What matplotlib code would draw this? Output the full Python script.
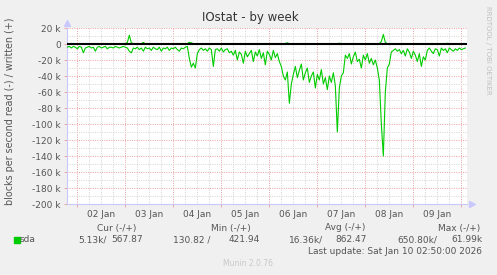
import numpy as np
import matplotlib
matplotlib.use("Agg")
import matplotlib.pyplot as plt
import matplotlib.dates as mdates

# hourly samples, starting 2026-01-01 19:00
start = np.datetime64("2026-01-01T19:00")
# read blocks/s (k), drawn negative
read_k = [4, 3, 5, 3, 4, 6, 3, 4, 11, 5, 4, 3, 5, 4, 9, 4, 3, 5, 4, 3,
          6, 4, 4, 5, 3, 4, 5, 4, 3, 4, 5, 9, 11, 5, 6, 4, 7, 5, 9, 4,
          6, 5, 8, 4, 6, 7, 4, 9, 5, 6, 4, 8, 5, 6, 4, 7, 9, 5, 6, 4,
          3, 18, 29, 24, 30, 12, 7, 5, 8, 6, 9, 5, 7, 28, 7, 6, 9, 5, 10, 7,
          6, 11, 9, 14, 8, 20, 10, 13, 24, 9, 16, 12, 8, 22, 10, 15, 7, 18, 11, 26,
          9, 13, 20, 8, 17, 12, 22, 28, 40, 45, 35, 74, 50, 38, 28, 42, 33, 25, 45, 36,
          30, 48, 40, 35, 55, 38, 45, 32, 50, 42, 57, 40, 48, 36, 52, 110, 55, 40, 36, 14,
          18, 12, 25, 16, 10, 22, 19, 30, 14, 20, 12, 24, 18, 26, 20, 30, 45, 100, 140, 60,
          30, 25, 10, 8, 6, 9, 7, 12, 8, 15, 6, 10, 18, 9, 14, 22, 12, 28, 16, 20,
          8, 5, 9, 12, 6, 7, 15, 5, 8, 6, 11, 5, 7, 9, 6, 8, 5, 7, 6, 5]
# written blocks/s (k)
write_k = [0.5, 0.4, 0.6, 0.5, 0.5, 0.4, 0.6, 0.5, 0.5, 0.4, 0.6, 0.5, 0.5, 0.4, 0.6, 0.5, 0.5, 0.4, 0.6, 0.5,
           0.5, 0.4, 0.6, 0.5, 0.5, 0.4, 0.6, 0.5, 0.5, 0.4, 2.0, 11.0, 1.5, 0.5, 0.6, 0.5, 0.5, 0.4, 2.0, 0.5,
           0.5, 0.4, 0.6, 0.5, 0.5, 0.4, 0.6, 0.5, 0.5, 0.4, 0.6, 0.5, 0.5, 0.4, 0.6, 0.5, 0.5, 0.4, 0.6, 0.5,
           0.6, 2.0, 1.5, 0.5, 0.5, 0.4, 0.6, 0.5, 0.5, 0.4, 0.6, 0.5, 0.5, 0.4, 0.6, 0.5, 0.5, 0.4, 0.6, 0.5,
           0.5, 0.4, 0.6, 0.5, 0.5, 0.4, 0.6, 0.5, 0.5, 0.4, 0.6, 0.5, 0.5, 0.4, 0.6, 0.5, 0.5, 0.4, 0.6, 0.5,
           0.5, 0.4, 0.6, 0.5, 0.5, 0.4, 0.6, 0.5, 0.5, 0.6, 1.5, 0.5, 0.5, 0.4, 0.6, 0.5, 0.5, 0.4, 0.6, 0.5,
           0.5, 0.4, 0.6, 0.5, 0.5, 0.4, 0.6, 0.5, 0.5, 0.4, 0.6, 0.5, 0.5, 0.4, 0.6, 0.5, 1.0, 0.5, 0.6, 0.5,
           0.5, 0.4, 0.6, 0.5, 0.5, 0.4, 0.6, 0.5, 0.5, 0.4, 0.6, 0.5, 0.5, 0.4, 0.6, 0.5, 0.5, 3.0, 12.0, 2.0,
           0.5, 0.4, 0.6, 0.5, 0.5, 0.4, 0.6, 0.5, 0.5, 0.4, 0.6, 0.5, 0.5, 0.4, 0.6, 0.5, 0.5, 0.4, 0.6, 0.5,
           0.5, 0.4, 0.6, 0.5, 0.5, 0.4, 0.6, 0.5, 0.5, 0.4, 1.0, 0.5, 0.5, 0.4, 0.6, 0.5, 0.5, 0.4, 0.6, 0.5]

day_labels = ["02 Jan", "03 Jan", "04 Jan", "05 Jan", "06 Jan", "07 Jan", "08 Jan", "09 Jan"]
y_ticks = [20, 0, -20, -40, -60, -80, -100, -120, -140, -160, -180, -200]

legend_head = ["Cur (-/+)", "Min (-/+)", "Avg (-/+)", "Max (-/+)"]
legend_vals = [("5.13k/", "567.87"), ("130.82 /", "421.94"),
               ("16.36k/", "862.47"), ("650.80k/", "61.99k")]

txt = "#555555"
green = "#00CC00"
red_grid = "#ECA6A6"
gray_grid = "#D6D6D6"


def dnum(s):
    return mdates.date2num(np.datetime64(s).astype("datetime64[s]").astype(object))


times = start + np.arange(len(read_k)) * np.timedelta64(1, "h")
t = mdates.date2num(times.astype("datetime64[s]").astype(object))
read = -np.array(read_k) * 1000
write = np.array(write_k) * 1000

fig = plt.figure(figsize=(4.97, 2.75), dpi=100, facecolor="#F0F0F0")
ax = fig.add_axes([67 / 497, 71 / 275, 400 / 497, 176 / 275], facecolor="white")

x0 = dnum("2026-01-01T18:50")
x1 = dnum("2026-01-10T02:50")
ax.set_xlim(x0, x1)
ax.set_ylim(-200000, 20000)

# grid: gray every 6 h / 10k, red at midnight / 20k
dot = (0, (1, 1.3))
for h in np.arange(dnum("2026-01-01T00:00"), x1, 0.25):
    if h < x0:
        continue
    major = abs(h - round(h)) < 1e-6
    ax.axvline(h, color=red_grid if major else gray_grid, lw=0.72, ls=dot, zorder=1)
for v in range(-190000, 20001, 10000):
    ax.axhline(v, color=red_grid if v % 20000 == 0 else gray_grid, lw=0.72, ls=dot, zorder=1)

ax.plot(t, write, color=green, lw=0.8, zorder=3)
ax.plot(t, read, color=green, lw=0.8, zorder=3)
ax.axhline(0, color="black", lw=1.5, zorder=4)

# x: red tick marks at midnight, labels at noon
midn = [dnum("2026-01-%02dT00:00" % (d + 2)) for d in range(len(day_labels) + 1)]
noon = [dnum("2026-01-%02dT12:00" % (d + 2)) for d in range(len(day_labels))]
ax.set_xticks(midn)
ax.set_xticklabels([])
ax.set_xticks(noon, minor=True)
ax.set_xticklabels(day_labels, minor=True)
ax.set_yticks([v * 1000 for v in y_ticks])
ax.set_yticklabels([("%d k" % v) if v != 0 else "0" for v in y_ticks])
ax.tick_params(axis="both", which="major", length=2.5, width=0.7, color=red_grid,
               labelsize=6.5, labelcolor=txt, pad=2)
ax.tick_params(axis="x", which="minor", length=0, labelsize=6.5, labelcolor=txt, pad=4.5)

for s in ["top", "right"]:
    ax.spines[s].set_visible(False)
for s in ["left", "bottom"]:
    ax.spines[s].set_color("#C8C8FF")
    ax.spines[s].set_linewidth(0.8)
ax.plot([0], [1.03], marker="^", color="#C8C8FF", ms=4, transform=ax.transAxes, clip_on=False)
ax.plot([1.012], [0], marker=">", color="#C8C8FF", ms=4, transform=ax.transAxes, clip_on=False)

fig.text(250 / 497, 1 - 17 / 275, "IOstat - by week", ha="center", va="center", fontsize=8.5, color="#333333")
fig.text(10 / 497, 1 - 111 / 275, "blocks per second read (-) / written (+)", rotation=90,
         ha="center", va="center", fontsize=6.9, color=txt)
fig.text(488 / 497, 1 - 50 / 275, "RRDTOOL / TOBI OETIKER", rotation=270,
         ha="center", va="center", fontsize=5, color="#C0C0C0")

# legend block
head_x = [117, 231, 345, 459]
for x, h in zip(head_x, legend_head):
    fig.text(x / 497, 1 - 228 / 275, h, ha="center", va="center", fontsize=6.5, color=txt)
fig.patches.append(plt.Rectangle((14 / 497, 1 - 243 / 275), 6 / 497, 6 / 275,
                                 transform=fig.transFigure, color=green))
fig.text(20 / 497, 1 - 240 / 275, "sda", ha="left", va="center", fontsize=6.5, color=txt)
val_right = [(107, 143), (210, 260), (323, 367), (437, 483)]
for (ra, rb), (a, b) in zip(val_right, legend_vals):
    fig.text(ra / 497, 1 - 240 / 275, a, ha="right", va="center", fontsize=6.5, color=txt)
    fig.text(rb / 497, 1 - 240 / 275, b, ha="right", va="center", fontsize=6.5, color=txt)
fig.text(482 / 497, 1 - 251 / 275, "Last update: Sat Jan 10 02:50:00 2026", ha="right", va="center",
         fontsize=6.5, color=txt)
fig.text(248 / 497, 1 - 263 / 275, "Munin 2.0.76", ha="center", va="center", fontsize=5.5, color="#C8C8C8")

fig.savefig("out.png", dpi=100, facecolor=fig.get_facecolor())
